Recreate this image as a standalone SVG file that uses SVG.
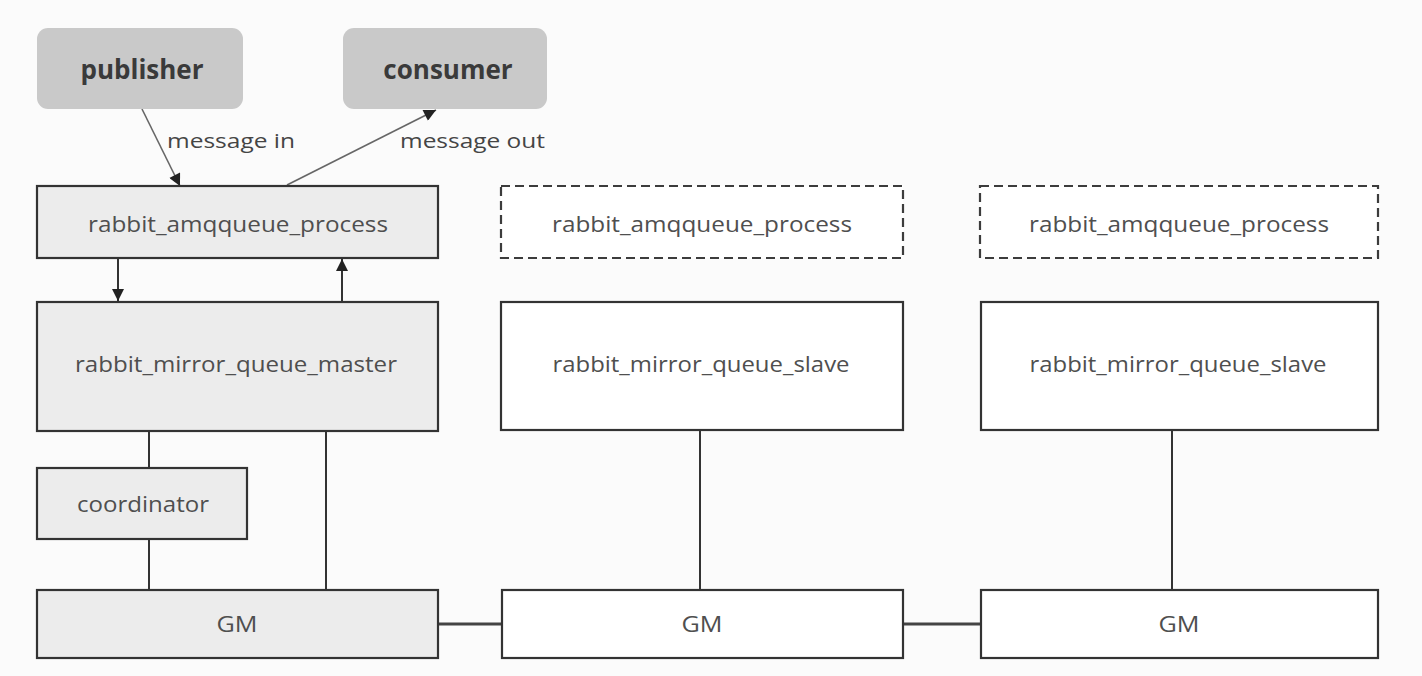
<svg xmlns="http://www.w3.org/2000/svg" width="1422" height="676" viewBox="0 0 1422 676">
<style>
.bg{fill:#fbfbfb}
.actor{fill:#c9c9c9;stroke:none}
.actor-t{font-family:"Open Sans","Noto Sans","Liberation Sans",sans-serif;font-weight:700;font-size:26px;fill:#3a3a3a;text-anchor:middle;dominant-baseline:central}
.gray{fill:#ececec;stroke:#333;stroke-width:2.2}
.white{fill:#ffffff;stroke:#333;stroke-width:2.2}
.dash{fill:#ffffff;stroke:#3c3c3c;stroke-width:2.2;stroke-dasharray:9 5}
.t{font-family:"Open Sans","Noto Sans","Liberation Sans",sans-serif;font-size:21px;fill:#4f4f4f;text-anchor:middle;dominant-baseline:central}
.lbl{font-family:"Open Sans","Noto Sans","Liberation Sans",sans-serif;font-size:20px;fill:#454545}
.ln{stroke:#333;stroke-width:2;fill:none}
.thin{stroke:#666;stroke-width:1.6;fill:none}
.thick{stroke:#444;stroke-width:3;fill:none}
</style>
<defs>
<marker id="ah" viewBox="0 0 12 12" refX="12" refY="6" markerWidth="13" markerHeight="12" markerUnits="userSpaceOnUse" orient="auto">
<path d="M0,0 L12,6 L0,12 z" fill="#222"/>
</marker>
</defs>
<rect class="bg" x="0" y="0" width="1422" height="676"/>

<g id="connectors">
<line class="thin" x1="142" y1="109" x2="180" y2="186" marker-end="url(#ah)"/>
<line class="thin" x1="287" y1="185" x2="436" y2="110" marker-end="url(#ah)"/>
<line class="ln" x1="118" y1="258" x2="118" y2="301" marker-end="url(#ah)"/>
<line class="ln" x1="342" y1="302" x2="342" y2="259" marker-end="url(#ah)"/>
<line class="ln" x1="149" y1="431" x2="149" y2="468"/>
<line class="ln" x1="149" y1="539" x2="149" y2="590"/>
<line class="ln" x1="326" y1="431" x2="326" y2="590"/>
<line class="ln" x1="700" y1="430" x2="700" y2="590"/>
<line class="ln" x1="1172" y1="430" x2="1172" y2="590"/>
<line class="thick" x1="438" y1="624" x2="502" y2="624"/>
<line class="thick" x1="903" y1="624" x2="981" y2="624"/>
<text class="lbl" x="167" y="148" textLength="128" lengthAdjust="spacingAndGlyphs">message in</text>
<text class="lbl" x="400" y="148" textLength="145" lengthAdjust="spacingAndGlyphs">message out</text>
</g>

<g id="publisher">
<rect class="actor" x="37" y="28" width="206" height="81" rx="11"/>
<text class="actor-t" x="142" y="69">publisher</text>
</g>
<g id="consumer">
<rect class="actor" x="343" y="28" width="204" height="81" rx="11"/>
<text class="actor-t" x="448" y="69">consumer</text>
</g>

<g id="amq1">
<rect class="gray" x="37" y="186" width="401" height="72"/>
<text class="t" x="238" y="224" textLength="300" lengthAdjust="spacingAndGlyphs">rabbit_amqqueue_process</text>
</g>
<g id="amq2">
<rect class="dash" x="501" y="186" width="402" height="72"/>
<text class="t" x="702" y="224" textLength="300" lengthAdjust="spacingAndGlyphs">rabbit_amqqueue_process</text>
</g>
<g id="amq3">
<rect class="dash" x="980" y="186" width="398" height="72"/>
<text class="t" x="1179" y="224" textLength="300" lengthAdjust="spacingAndGlyphs">rabbit_amqqueue_process</text>
</g>

<g id="master">
<rect class="gray" x="37" y="302" width="401" height="129"/>
<text class="t" x="236" y="364" textLength="322" lengthAdjust="spacingAndGlyphs">rabbit_mirror_queue_master</text>
</g>
<g id="slave1">
<rect class="white" x="501" y="302" width="402" height="128"/>
<text class="t" x="701" y="364" textLength="297" lengthAdjust="spacingAndGlyphs">rabbit_mirror_queue_slave</text>
</g>
<g id="slave2">
<rect class="white" x="981" y="302" width="397" height="128"/>
<text class="t" x="1178" y="364" textLength="297" lengthAdjust="spacingAndGlyphs">rabbit_mirror_queue_slave</text>
</g>

<g id="coordinator">
<rect class="gray" x="37" y="468" width="210" height="71"/>
<text class="t" x="143" y="504" textLength="132" lengthAdjust="spacingAndGlyphs">coordinator</text>
</g>

<g id="gm1">
<rect class="gray" x="37" y="590" width="401" height="68"/>
<text class="t" x="237" y="624" textLength="41" lengthAdjust="spacingAndGlyphs">GM</text>
</g>
<g id="gm2">
<rect class="white" x="502" y="590" width="401" height="68"/>
<text class="t" x="702" y="624" textLength="41" lengthAdjust="spacingAndGlyphs">GM</text>
</g>
<g id="gm3">
<rect class="white" x="981" y="590" width="397" height="68"/>
<text class="t" x="1179" y="624" textLength="41" lengthAdjust="spacingAndGlyphs">GM</text>
</g>
</svg>
